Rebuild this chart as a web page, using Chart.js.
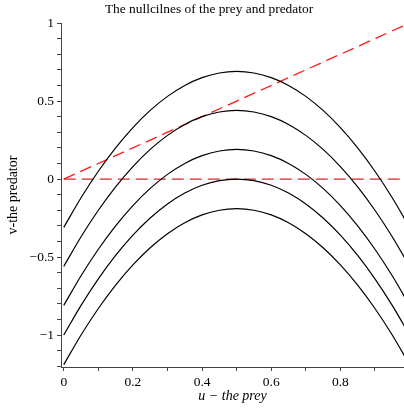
<!DOCTYPE html>
<html><head><meta charset="utf-8">
<script src="https://cdn.jsdelivr.net/npm/chart.js@4/dist/chart.umd.min.js"></script>
<style>html,body{margin:0;padding:0;background:#fff}</style>
</head><body>
<canvas id="c" width="404" height="408" style="display:block;width:404px;height:408px"></canvas>
<script>
// u values (prey) at which the nullcline curves were read
const uValues = [0,0.05,0.1,0.15,0.2,0.25,0.3,0.35,0.4,0.45,0.5,0.55,0.6,0.65,0.7,0.75,0.8,0.85,0.9,0.95,1];
const curve1 = [-0.31,-0.12,0.05,0.20,0.33,0.44,0.53,0.60,0.65,0.68,0.69,0.68,0.65,0.60,0.53,0.44,0.33,0.20,0.05,-0.12,-0.31];
const curve2 = [-0.56,-0.37,-0.20,-0.05,0.08,0.19,0.28,0.35,0.40,0.43,0.44,0.43,0.40,0.35,0.28,0.19,0.08,-0.05,-0.20,-0.37,-0.56];
const curve3 = [-0.81,-0.62,-0.45,-0.30,-0.17,-0.06,0.03,0.10,0.15,0.18,0.19,0.18,0.15,0.10,0.03,-0.06,-0.17,-0.30,-0.45,-0.62,-0.81];
const curve4 = [-1.00,-0.81,-0.64,-0.49,-0.36,-0.25,-0.16,-0.09,-0.04,-0.01,0.00,-0.01,-0.04,-0.09,-0.16,-0.25,-0.36,-0.49,-0.64,-0.81,-1.00];
const curve5 = [-1.19,-1.00,-0.83,-0.68,-0.55,-0.44,-0.35,-0.28,-0.23,-0.20,-0.19,-0.20,-0.23,-0.28,-0.35,-0.44,-0.55,-0.68,-0.83,-1.00,-1.19];
// predator nullclines (dashed red)
const diagU = [0, 1];
const diagV = [0, 1];
const zeroU = [0, 1];
const zeroV = [0, 0];
// ticks
const xTicks = [0,0.1,0.2,0.3,0.4,0.5,0.6,0.7,0.8,0.9];
const xLabels = ['0','','0.2','','0.4','','0.6','','0.8',''];
const yTicks = [-1.2,-1.1,-1,-0.9,-0.8,-0.7,-0.6,-0.5,-0.4,-0.3,-0.2,-0.1,0,0.1,0.2,0.3,0.4,0.5,0.6,0.7,0.8,0.9,1];
const yLabels = ['','','\u22121','','','','','\u22120.5','','','','','0','','','','','0.5','','','','','1'];

const pts = (xs, ys) => xs.map((x, i) => ({x: x, y: ys[i]}));
const serif = '"Liberation Serif","Times New Roman",serif';
const curveStyle = {borderColor:'#000', borderWidth:1.2, pointRadius:0, cubicInterpolationMode:'monotone', fill:false};
const lbl = (ticks, labels) => (v) => { const i = ticks.findIndex(t => Math.abs(t - v) < 1e-9); return i >= 0 ? labels[i] : ''; };

new Chart(document.getElementById('c'), {
  type: 'line',
  data: { datasets: [
    Object.assign({data: pts(uValues, curve1)}, curveStyle),
    Object.assign({data: pts(uValues, curve2)}, curveStyle),
    Object.assign({data: pts(uValues, curve3)}, curveStyle),
    Object.assign({data: pts(uValues, curve4)}, curveStyle),
    Object.assign({data: pts(uValues, curve5)}, curveStyle),
    {data: pts(diagU, diagV), borderColor:'#ff1a1a', borderWidth:1.3, borderDash:[12,6], pointRadius:0, tension:0, fill:false},
    {data: pts(zeroU, zeroV), borderColor:'#d42a2a', borderWidth:1.3, borderDash:[12,6], pointRadius:0, tension:0, fill:false}
  ]},
  options: {
    responsive: false, animation: false, devicePixelRatio: 1,
    layout: {padding: {left:14, top:0, right:0, bottom:0}},
    plugins: {
      legend: {display:false}, tooltip: {enabled:false},
      title: {display:true, text:'The nullcilnes of the prey and predator', color:'#000',
        font:{family:serif, size:13.4, weight:'normal'}, padding:{top:1, bottom:6}}
    },
    scales: {
      x: {
        type:'linear', min:-0.008, max:0.984,
        afterBuildTicks: s => { s.ticks = xTicks.map(v => ({value:v})); },
        afterFit: s => { s.height = 41; },
        ticks: {callback: lbl(xTicks, xLabels), autoSkip:false, maxRotation:0, padding:3, color:'#000',
          font:{family:serif, size:13.5}},
        grid: {drawOnChartArea:false, drawTicks:true, tickLength:4, color:'#444', lineWidth:1},
        border: {display:true, color:'#444', width:1},
        title: {display:true, text:'u \u2212 the prey', color:'#000',
          font:{family:serif, size:14, style:'italic'}, padding:{top:0, bottom:3}}
      },
      y: {
        type:'linear', min:-1.205, max:1,
        afterBuildTicks: s => { s.ticks = yTicks.map(v => ({value:v})); },
        afterFit: s => { s.width = 47; },
        ticks: {callback: lbl(yTicks, yLabels), autoSkip:false, padding:3, color:'#000',
          font:{family:serif, size:13.5}},
        grid: {drawOnChartArea:false, drawTicks:true, tickLength:4, color:'#444', lineWidth:1},
        border: {display:true, color:'#444', width:1},
        title: {display:true, text:'v-the predator', color:'#000',
          font:{family:serif, size:14}, padding:{top:-9.4, bottom:0}}
      }
    }
  }
});
</script>
</body></html>
